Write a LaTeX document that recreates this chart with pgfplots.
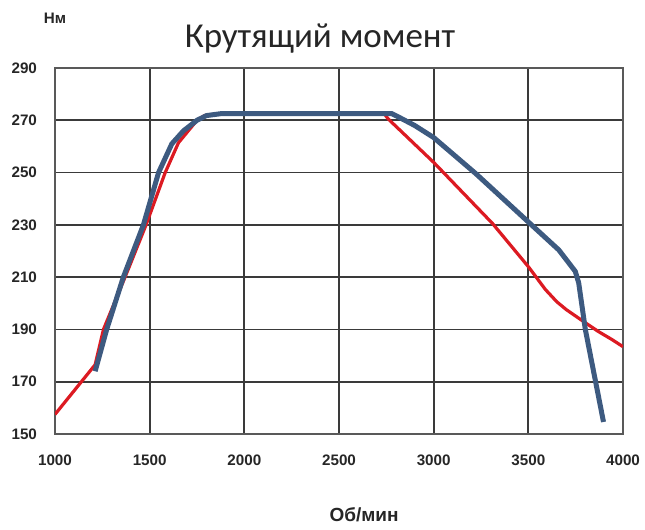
\documentclass[border=0pt]{standalone}
\usepackage{pgfplots}
\pgfplotsset{compat=1.18}
\usepackage{fontspec}
\setmainfont{Liberation Sans}
\newfontfamily\titlefont{Carlito}
\usetikzlibrary{calc}

\definecolor{torqblue}{HTML}{3D5A80}
\definecolor{torqred}{HTML}{DC1A22}
\definecolor{gridgray}{HTML}{3A3A3A}

\begin{document}
\begin{tikzpicture}
\begin{axis}[
    scale only axis,
    width=284pt,
    height=183pt,
    xmin=1000, xmax=4000,
    ymin=150, ymax=290,
    xtick={1000,1500,...,4000},
    ytick={150,170,...,290},
    major tick length=0pt,
    grid=major,
    grid style={gridgray, line width=0.9pt},
    axis line style={draw=black!65, line width=0.9pt},
    /pgf/number format/assume math mode=true,
    /pgf/number format/1000 sep={},
    ticklabel style={font=\bfseries\fontsize{7.6}{9}\selectfont, text=black!85},
    yticklabel style={anchor=east, xshift=-5.5pt},
    xticklabel style={anchor=center, yshift=-13pt},
    title={\titlefont\fontsize{17.5}{19}\selectfont Крутящий момент},
    title style={at={(axis description cs:0.5,1)}, anchor=base, yshift=4pt, xshift=-9.5pt, text=black!85},
    xlabel={Об/мин},
    xlabel style={at={(axis description cs:0.5,0)}, anchor=center, yshift=-40.5pt, xshift=12.5pt,
        font=\bfseries\fontsize{9.5}{11}\selectfont, text=black!85},
    ylabel={Нм},
    ylabel style={at={(axis description cs:0,1)}, anchor=center, rotate=-90, yshift=25pt,
        font=\bfseries\fontsize{7.6}{9}\selectfont, text=black!85},
]
% red curve
\addplot [torqred, line width=1.6pt] coordinates {
 (1000,157.5) (1212,176.5) (1256,190) (1370,210) (1481,230) (1582,250)
 (1652,261.4) (1750,270) (1790,271.8) (1850,272.4) (2740,272.4)
 (2760,270.5) (3000,253.9) (3311,230.5) (3500,214) (3591,205.2)
 (3650,200.6) (3700,197.6) (3750,195.1) (3800,192.6) (3870,189.2)
 (3940,186.2) (4000,183.4)
};
% blue curve
\addplot [torqblue, line width=2.5pt] coordinates {
 (1212,174) (1273,190) (1361,210) (1467,230) (1547,250) (1617,261)
 (1679,266) (1750,270) (1800,271.8) (1873,272.5) (2780,272.5)
 (2808,271.5) (2900,268) (3000,263.4) (3224,249.5) (3500,231.1)
 (3661,220.4) (3748,212.2) (3766,207.8) (3801,190) (3897,154.6)
};
\end{axis}
\pgfresetboundingbox
\path ($(current axis.south west)+(-27.5pt,-47.5pt)$) rectangle ($(current axis.north east)+(11pt,34pt)$);
\end{tikzpicture}
\end{document}
